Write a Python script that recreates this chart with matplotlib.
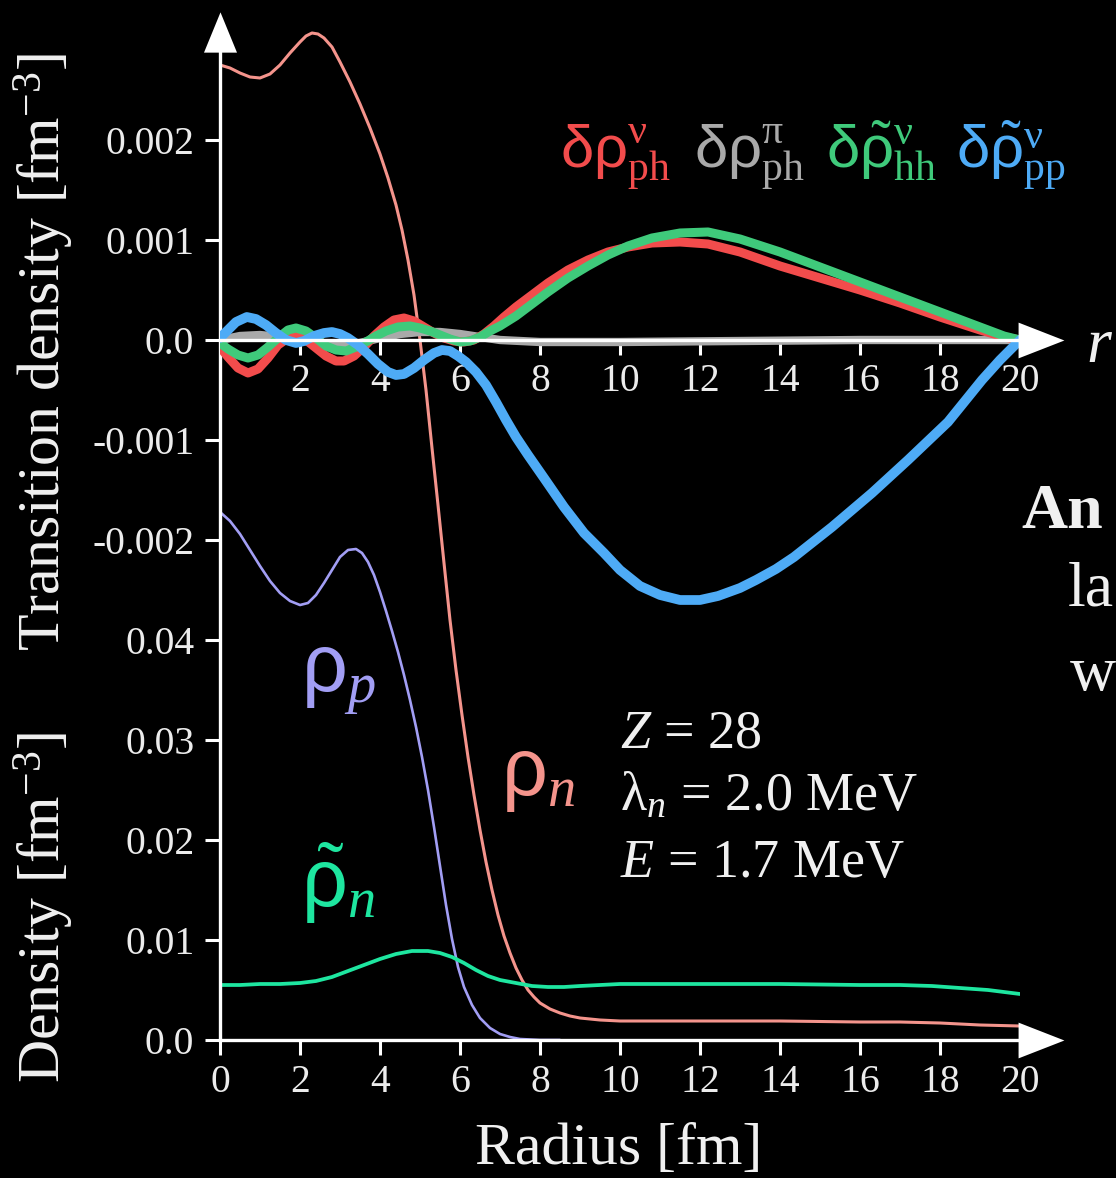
import numpy as np
import matplotlib
matplotlib.use("Agg")
import matplotlib.pyplot as plt

# ---------------- data ----------------
# ground-state densities [fm^-3]
r_rho_n = [0, 0.25, 0.5, 0.75, 1.0, 1.25, 1.5, 1.75, 2.0, 2.15, 2.3, 2.45, 2.6, 2.8, 3.0,
           3.25, 3.5, 3.75, 4.0, 4.2, 4.4, 4.55, 4.7, 4.85, 5.0, 5.15, 5.3, 5.45, 5.6,
           5.75, 5.9, 6.05, 6.2, 6.35, 6.5, 6.65, 6.8, 6.95, 7.1, 7.25, 7.4, 7.55, 7.7,
           7.85, 8.0, 8.25, 8.5, 8.75, 9.0, 9.5, 10, 12, 14, 16, 17, 18, 19, 20]
rho_n = [0.0975, 0.0972, 0.0967, 0.0963, 0.0962, 0.0966, 0.0975, 0.0987, 0.0998, 0.1004,
         0.1007, 0.1006, 0.1002, 0.0993, 0.0978, 0.0958, 0.0936, 0.0912, 0.0886, 0.0862,
         0.0835, 0.0810, 0.0780, 0.0745, 0.0700, 0.0650, 0.0592, 0.0535, 0.0477, 0.0420,
         0.0370, 0.0325, 0.0283, 0.0245, 0.0210, 0.0178, 0.0150, 0.0125, 0.0104, 0.0087,
         0.0072, 0.0060, 0.0050, 0.0043, 0.0037, 0.0031, 0.0027, 0.0024, 0.0022, 0.0020,
         0.0019, 0.0019, 0.0019, 0.0018, 0.0018, 0.0017, 0.0015, 0.0014]

r_rho_p = [0, 0.25, 0.5, 0.75, 1.0, 1.25, 1.5, 1.75, 2.0, 2.2, 2.4, 2.6, 2.8, 3.0, 3.2,
           3.4, 3.55, 3.7, 3.85, 4.0, 4.15, 4.3, 4.45, 4.6, 4.75, 4.9, 5.05, 5.2, 5.35,
           5.5, 5.65, 5.8, 5.95, 6.1, 6.3, 6.5, 6.75, 7.0, 7.25, 7.5, 8.0, 8.5]
rho_p = [0.0528, 0.0519, 0.0506, 0.0490, 0.0474, 0.0459, 0.0447, 0.0439, 0.0435, 0.0437,
         0.0445, 0.0457, 0.0470, 0.0483, 0.0490, 0.0491, 0.0487, 0.0478, 0.0465, 0.0448,
         0.0429, 0.0409, 0.0388, 0.0365, 0.0340, 0.0313, 0.0283, 0.0250, 0.0213, 0.0174,
         0.0135, 0.0101, 0.0073, 0.0053, 0.0035, 0.0022, 0.0012, 0.0006, 0.0003, 0.0001,
         0.0, 0.0]

r_rho_tn = [0, 0.5, 1, 1.5, 2, 2.4, 2.8, 3.2, 3.6, 4.0, 4.4, 4.8, 5.2, 5.5, 5.8, 6.1,
            6.4, 6.7, 7.0, 7.4, 7.8, 8.2, 8.6, 9.0, 10, 11, 12, 14, 16, 17, 17.8, 18.5,
            19.2, 20]
rho_tn = [0.0055, 0.0055, 0.0056, 0.0056, 0.0057, 0.0059, 0.0063, 0.0069, 0.0075, 0.0081,
          0.0086, 0.0089, 0.0089, 0.0087, 0.0083, 0.0077, 0.0070, 0.0064, 0.0060, 0.0057,
          0.0054, 0.0053, 0.0053, 0.0054, 0.0056, 0.0056, 0.0056, 0.0056, 0.0055, 0.0055,
          0.0054, 0.0052, 0.0050, 0.0046]

# transition densities [fm^-3]
r_ph_nu = [0, 0.2, 0.45, 0.7, 0.95, 1.2, 1.45, 1.7, 1.95, 2.15, 2.4, 2.65, 2.9, 3.1,
           3.35, 3.6, 3.85, 4.1, 4.35, 4.6, 4.85, 5.1, 5.35, 5.6, 5.85, 6.1, 6.35, 6.6,
           6.85, 7.1, 7.4, 7.8, 8.2, 8.7, 9.2, 9.7, 10.2, 10.8, 11.5, 12.2, 13.0, 14.0,
           15.0, 16.0, 17.0, 18.0, 19.0, 19.6, 20.0]
ph_nu = [-0.00007, -0.00017, -0.00028, -0.00033, -0.00029, -0.00018, -0.00005, 0.00002,
         0.00004, 0.0, -0.00008, -0.00016, -0.00021, -0.00021, -0.00016, -0.00007,
         0.00004, 0.00013, 0.00020, 0.00022, 0.00019, 0.00013, 0.00007, 0.00002,
         -0.00001, -0.00002, 0.0, 0.00006, 0.00014, 0.00023, 0.00033, 0.00045, 0.00057,
         0.00070, 0.00080, 0.00088, 0.00093, 0.00097, 0.00098, 0.00096, 0.00088, 0.00074,
         0.00062, 0.00050, 0.00037, 0.00023, 0.00010, 0.00003, 0.0]

r_ph_pi = [0, 0.5, 1.0, 1.5, 2.0, 2.5, 3.0, 3.5, 4.0, 4.5, 5.0, 5.5, 6.0, 6.5, 7.0, 8.0,
           10, 13, 16, 20]
ph_pi = [0.0, 0.00004, 0.00005, 0.00003, 0.0, -0.00004, -0.00006, -0.00003, 0.00002,
         0.00006, 0.00008, 0.00008, 0.00006, 0.00003, 0.0, -0.00002, -0.00002, -0.00001,
         0.0, 0.0]

r_hh_nu = [0, 0.2, 0.45, 0.7, 0.95, 1.2, 1.45, 1.7, 1.9, 2.15, 2.4, 2.65, 2.9, 3.15,
           3.4, 3.65, 3.9, 4.15, 4.45, 4.75, 5.0, 5.25, 5.5, 5.75, 6.0, 6.25, 6.5, 6.75,
           7.0, 7.4, 7.8, 8.2, 8.7, 9.2, 9.7, 10.2, 10.8, 11.5, 12.2, 13.0, 14.0, 15.0,
           16.0, 17.0, 18.0, 19.0, 19.6, 20.0]
hh_nu = [-0.00003, -0.00009, -0.00015, -0.00018, -0.00015, -0.00007, 0.00002, 0.00010,
         0.00012, 0.00009, 0.00002, -0.00006, -0.00010, -0.00011, -0.00007, -0.00002,
         0.00004, 0.00009, 0.00013, 0.00014, 0.00012, 0.00009, 0.00005, 0.00001,
         -0.00002, -0.00001, 0.00003, 0.00009, 0.00014, 0.00024, 0.00036, 0.00048,
         0.00062, 0.00074, 0.00085, 0.00094, 0.00102, 0.00107, 0.00108, 0.00101, 0.00088,
         0.00073, 0.00058, 0.00043, 0.00028, 0.00013, 0.00004, 0.0]

r_pp_nu = [0, 0.2, 0.4, 0.67, 0.9, 1.15, 1.4, 1.65, 1.9, 2.1, 2.35, 2.6, 2.8, 3.0, 3.2,
           3.45, 3.7, 3.95, 4.2, 4.4, 4.6, 4.85, 5.1, 5.35, 5.55, 5.75, 5.95, 6.15, 6.4,
           6.65, 6.9, 7.15, 7.4, 7.7, 8.1, 8.6, 9.1, 9.6, 10.0, 10.5, 11.0, 11.5, 12.0,
           12.45, 13.0, 13.4, 13.9, 14.35, 15.3, 16.3, 17.2, 18.2, 19.05, 19.5, 20.0]
pp_nu = [0.00002, 0.00010, 0.00018, 0.00023, 0.00021, 0.00015, 0.00007, 0.0, -0.00003,
         -0.00001, 0.00004, 0.00007, 0.00008, 0.00006, 0.00002, -0.00005, -0.00014,
         -0.00024, -0.00032, -0.00035, -0.00034, -0.00028, -0.00020, -0.00013, -0.00010,
         -0.00011, -0.00016, -0.00022, -0.00032, -0.00045, -0.00062, -0.00080, -0.00097,
         -0.00115, -0.00138, -0.00167, -0.00193, -0.00213, -0.00230, -0.00246, -0.00255,
         -0.00260, -0.00260, -0.00256, -0.00248, -0.00240, -0.00229, -0.00217, -0.00187,
         -0.00153, -0.00120, -0.00082, -0.00040, -0.00020, 0.0]

x_ticks_bottom = [0, 2, 4, 6, 8, 10, 12, 14, 16, 18, 20]
x_ticks_trans = [2, 4, 6, 8, 10, 12, 14, 16, 18, 20]
y_ticks_dens = [0.0, 0.01, 0.02, 0.03, 0.04]
y_labels_dens = ["0.0", "0.01", "0.02", "0.03", "0.04"]
y_ticks_trans = [-0.002, -0.001, 0.0, 0.001, 0.002]
y_labels_trans = ["-0.002", "-0.001", "0.0", "0.001", "0.002"]

# ---------------- styling ----------------
plt.rcParams["font.family"] = ["Liberation Serif", "DejaVu Serif"]
plt.rcParams["mathtext.fontset"] = "custom"
plt.rcParams["mathtext.rm"] = "Liberation Serif"
plt.rcParams["mathtext.it"] = "Liberation Serif:italic"
plt.rcParams["mathtext.bf"] = "Liberation Serif:bold"
plt.rcParams["mathtext.sf"] = "Liberation Sans"

W, H = 1116, 1178
fig = plt.figure(figsize=(W / 100, H / 100), dpi=100, facecolor="black")


def fx(px):
    return px / W


def fy(py):
    return 1 - py / H


pos = [fx(220), fy(1040), fx(1020) - fx(220), fy(20) - fy(1040)]
ax_d = fig.add_axes(pos)
ax_t = fig.add_axes(pos)
for ax in (ax_d, ax_t):
    ax.patch.set_visible(False)
    ax.set_xlim(0, 20)
    for s in ax.spines.values():
        s.set_visible(False)
ax_d.set_ylim(0, 0.102)
ax_t.set_ylim(-0.007, 0.0032)

WHITE = "white"
TICKC = "#ececec"

# density axes spines
for s in ("left", "bottom"):
    ax_d.spines[s].set_visible(True)
    ax_d.spines[s].set_color(WHITE)
    ax_d.spines[s].set_linewidth(2.4)
# transition axis at zero
ax_t.spines["bottom"].set_visible(True)
ax_t.spines["bottom"].set_position(("data", 0))
ax_t.spines["bottom"].set_color(WHITE)
ax_t.spines["bottom"].set_linewidth(2.4)

ax_d.set_xticks(x_ticks_bottom)
ax_d.set_xticklabels([str(v) for v in x_ticks_bottom])
ax_d.set_yticks(y_ticks_dens)
ax_d.set_yticklabels(y_labels_dens)
ax_t.set_xticks(x_ticks_trans)
ax_t.set_xticklabels([str(v) for v in x_ticks_trans])
ax_t.set_yticks(y_ticks_trans)
ax_t.set_yticklabels(y_labels_trans)

for ax, xpad in ((ax_d, 6.5), (ax_t, 6)):
    ax.tick_params(axis="x", direction="out", length=10.5, width=2.2, color=WHITE,
                   labelcolor=TICKC, labelsize=28.5, pad=xpad)
    ax.tick_params(axis="y", direction="out", length=10.5, width=2.2, color=WHITE,
                   labelcolor=TICKC, labelsize=28.5, pad=8)

# curves
kw = dict(solid_capstyle="round", solid_joinstyle="round")
ax_d.plot(r_rho_n, rho_n, color="#f4948c", lw=2.2, **kw)
ax_d.plot(r_rho_p, rho_p, color="#a29ef4", lw=1.9, **kw)
ax_d.plot(r_rho_tn, rho_tn, color="#1ee6a0", lw=2.7, **kw)

ax_t.plot(r_ph_pi, ph_pi, color="#a9a9a9", lw=6, **kw)
ax_t.plot(r_ph_nu, ph_nu, color="#f24c4c", lw=6.5, **kw)
ax_t.plot(r_hh_nu, hh_nu, color="#3fca7b", lw=6.5, **kw)
ax_t.plot(r_pp_nu, pp_nu, color="#4eabf6", lw=7, **kw)

# arrowheads
right_head = [(-1, -0.78), (1, 0), (-1, 0.78), (-1, -0.78)]
up_head = [(-0.82, -1), (0, 1), (0.82, -1), (-0.82, -1)]
ax_d.plot([20.525], [0], marker=right_head, ms=33, mew=0, color=WHITE, clip_on=False,
          zorder=5)
ax_t.plot([20.525], [0], marker=right_head, ms=33, mew=0, color=WHITE, clip_on=False,
          zorder=5)
ax_d.plot([0], [0.1008], marker=up_head, ms=29, mew=0, color=WHITE, clip_on=False,
          zorder=5)

# axis titles
fig.text(fx(44), fy(352), r"Transition density [fm$^{-3}$]", rotation=90,
         ha="center", va="center", fontsize=43, color="#f0f0f0")
fig.text(fx(44), fy(908), r"Density [fm$^{-3}$]", rotation=90,
         ha="center", va="center", fontsize=43, color="#f0f0f0")
fig.text(fx(619), fy(1150), "Radius [fm]", ha="center", va="center", fontsize=43,
         color="#f0f0f0")
fig.text(fx(1086), fy(362), "r", style="italic", ha="left", va="baseline",
         fontsize=46, color="#f0f0f0")

# legend labels for transition densities
fig.text(fx(560), fy(167), r"$\mathsf{\delta\rho}^{\mathrm{\nu}}_{\mathrm{ph}}$",
         color="#f24c4c", fontsize=43, ha="left", va="baseline")
fig.text(fx(694), fy(167), r"$\mathsf{\delta\rho}^{\mathrm{\pi}}_{\mathrm{ph}}$",
         color="#a9a9a9", fontsize=43, ha="left", va="baseline")
fig.text(fx(826), fy(167), r"$\mathsf{\delta}\tilde{\mathsf{\rho}}^{\mathrm{\nu}}_{\mathrm{hh}}$",
         color="#3fca7b", fontsize=43, ha="left", va="baseline")
fig.text(fx(956), fy(167), r"$\mathsf{\delta}\tilde{\mathsf{\rho}}^{\mathrm{\nu}}_{\mathrm{pp}}$",
         color="#4eabf6", fontsize=43, ha="left", va="baseline")

# density labels
fig.text(fx(301), fy(692), r"$\mathsf{\rho}_{\mathit{p}}$", color="#a29ef4",
         fontsize=58, ha="left", va="baseline")
fig.text(fx(501), fy(795), r"$\mathsf{\rho}_{\mathit{n}}$", color="#f4948c",
         fontsize=58, ha="left", va="baseline")
fig.text(fx(301), fy(907), r"$\tilde{\mathsf{\rho}}_{\mathit{n}}$", color="#1ee6a0",
         fontsize=58, ha="left", va="baseline")

# parameters
fig.text(fx(620), fy(748), r"$\mathit{Z}$ = 28", color="#f0f0f0", fontsize=39,
         ha="left", va="baseline")
fig.text(fx(620), fy(811), r"$\mathrm{\lambda}_{\mathit{n}}$ = 2.0 MeV", color="#f0f0f0",
         fontsize=39, ha="left", va="baseline")
fig.text(fx(620), fy(877), r"$\mathit{E}$ = 1.7 MeV", color="#f0f0f0", fontsize=39,
         ha="left", va="baseline")

# slide text at the right edge
fig.text(fx(1021), fy(528), "An", color="#f0f0f0", fontsize=46, fontweight="bold",
         ha="left", va="baseline")
fig.text(fx(1068), fy(605), "la", color="#f0f0f0", fontsize=46, ha="left",
         va="baseline")
fig.text(fx(1070), fy(690), "w", color="#f0f0f0", fontsize=46, ha="left",
         va="baseline")

fig.savefig("out.png", dpi=100, facecolor="black")
